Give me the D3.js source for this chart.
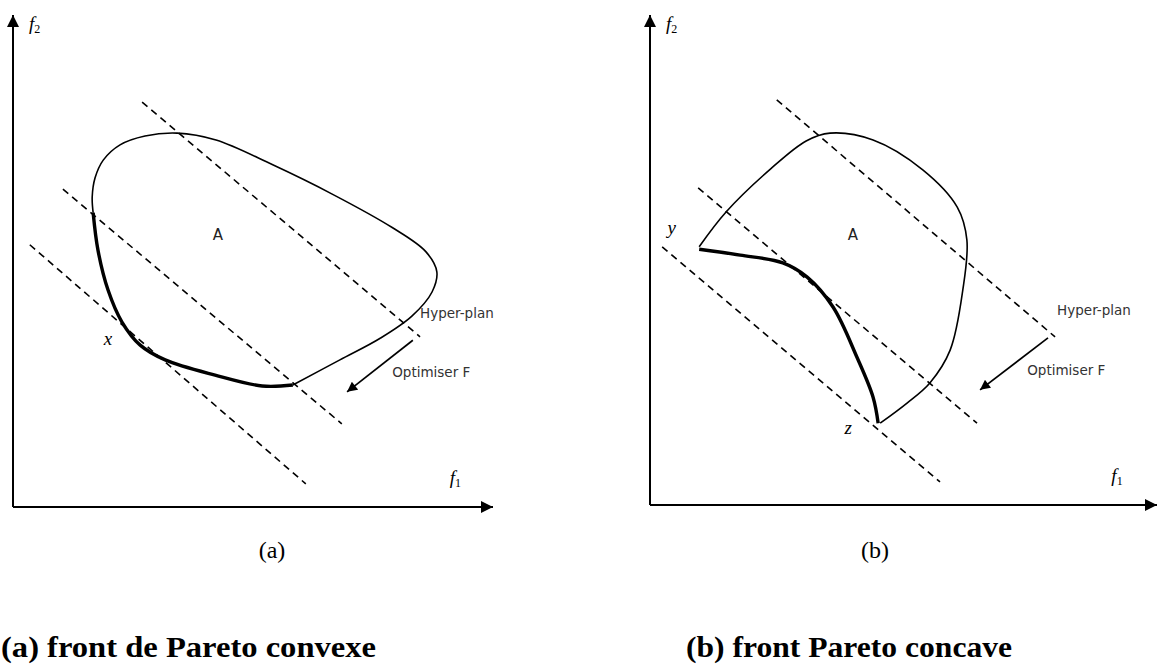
<!DOCTYPE html>
<html><head><meta charset="utf-8">
<script src="https://cdn.jsdelivr.net/npm/d3@7"></script>
<style>body{margin:0;background:#fff}svg{display:block}</style>
</head><body>
<svg id="c" width="1160" height="668"></svg>
<script>
// ---------- data (f1, f2 units 0..100) ----------
// Panel (a): convex front
const outlineA = [[58.3,24.8],[68.1,29.9],[76.5,34.3],[83.1,38.8],[87.3,43.7],[88.3,47.8],[86.0,51.9],[79.0,56.8],[66.5,63.6],[54.0,69.6],[42.3,74.6],[34.2,76.0],[27.5,75.4],[22.3,73.6],[18.8,70.5],[17.1,66.9],[16.5,63.0],[16.7,59.8]];
const frontA = [[16.7,59.8],[17.7,52.2],[19.8,44.1],[22.7,37.6],[26.5,32.9],[31.7,29.9],[42.1,26.8],[51.9,24.6],[58.3,24.8]];
const hyperA = [[[26.9,82.3],[84.8,34.6]],[[10.4,64.6],[68.5,16.9]],[[3.5,53.3],[61.0,4.7]]];
const arrowA = [[83.3,33.9],[69.6,23.4]];
// Panel (b): concave front
const outlineB = [[9.7,52.7],[15.0,59.8],[23.8,68.6],[30.8,74.3],[35.5,75.9],[44.0,74.5],[53.8,68.4],[60.6,60.8],[62.5,54.1],[61.7,43.9],[59.2,31.6],[55.2,24.9],[50.7,20.8],[45.4,16.7]];
const frontB = [[9.7,52.2],[17.8,51.0],[26.2,49.4],[31.0,46.5],[36.1,40.4],[40.8,30.2],[44.0,22.0],[45.0,16.7]];
const hyperB = [[[25.0,82.7],[79.9,34.3]],[[9.5,64.7],[64.5,16.7]],[[2.4,52.7],[57.2,4.7]]];
const arrowB = [[78.5,34.1],[65.1,23.5]];
// labels
const labelsA = [{t:"A",p:[42.7,54.3],cls:"sans14"},{t:"Hyper-plan",p:[84.8,38.4],cls:"sans13"},{t:"Optimiser F",p:[79.0,26.4],cls:"sans13"},{t:"x",p:[19.8,32.9],cls:"ital"}];
const labelsB = [{t:"A",p:[40.0,54.1],cls:"sans14"},{t:"Hyper-plan",p:[80.3,38.8],cls:"sans13"},{t:"Optimiser F",p:[74.4,26.5],cls:"sans13"},{t:"y",p:[4.3,55.3],cls:"ital"},{t:"z",p:[39.1,14.4],cls:"ital"}];
const subLabels = ["(a)","(b)"];
const captions = ["(a)  front de Pareto convexe","(b) front Pareto concave"];

// ---------- drawing ----------
const svg = d3.select("#c");
const defs = svg.append("defs");
defs.append("marker").attr("id","ah").attr("viewBox","0 0 10 10").attr("refX",10).attr("refY",5)
  .attr("markerWidth",11).attr("markerHeight",10).attr("markerUnits","userSpaceOnUse").attr("orient","auto")
  .append("path").attr("d","M0,0L10,5L0,10z").attr("fill","#000");
defs.append("marker").attr("id","ax").attr("viewBox","0 0 10 10").attr("refX",10).attr("refY",5)
  .attr("markerWidth",13).attr("markerHeight",12).attr("markerUnits","userSpaceOnUse").attr("orient","auto")
  .append("path").attr("d","M0,0L10,5L0,10z").attr("fill","#000");

const panels = [
  {x0:13, x1:493, y0:507, y1:15, outline:outlineA, front:frontA, hyper:hyperA, arrow:arrowA, labels:labelsA, sub:subLabels[0], subX:272, cap:captions[0], capX:1, capW:375},
  {x0:650, x1:1157, y0:505, y1:15, outline:outlineB, front:frontB, hyper:hyperB, arrow:arrowB, labels:labelsB, sub:subLabels[1], subX:875, cap:captions[1], capX:686, capW:326}
];

panels.forEach(P => {
  const x = d3.scaleLinear().domain([0,100]).range([P.x0, P.x1]);
  const y = d3.scaleLinear().domain([0,100]).range([P.y0, P.y1]);
  const g = svg.append("g");
  const line = d3.line().x(d=>x(d[0])).y(d=>y(d[1])).curve(d3.curveCatmullRom.alpha(0.5));
  // axes
  g.append("line").attr("x1",x(0)).attr("y1",y(0)).attr("x2",x(0)).attr("y2",y(100))
    .attr("stroke","#000").attr("stroke-width",2).attr("marker-end","url(#ax)");
  g.append("line").attr("x1",x(0)).attr("y1",y(0)).attr("x2",x(100)).attr("y2",y(0))
    .attr("stroke","#000").attr("stroke-width",2).attr("marker-end","url(#ax)");
  // axis labels
  const f2 = g.append("text").attr("x",x(0)+16).attr("y",y(100)+15).attr("font-family","Liberation Serif").attr("font-size",19);
  f2.append("tspan").attr("font-style","italic").text("f");
  f2.append("tspan").attr("font-size",12).attr("dy",3).text("2");
  const f1 = g.append("text").attr("x",x(91)).attr("y",y(4.6)).attr("font-family","Liberation Serif").attr("font-size",19);
  f1.append("tspan").attr("font-style","italic").text("f");
  f1.append("tspan").attr("font-size",12).attr("dy",3).text("1");
  // hyperplanes
  g.selectAll(".hp").data(P.hyper).join("line")
    .attr("x1",d=>x(d[0][0])).attr("y1",d=>y(d[0][1])).attr("x2",d=>x(d[1][0])).attr("y2",d=>y(d[1][1]))
    .attr("stroke","#000").attr("stroke-width",1.6).attr("stroke-dasharray","7,5");
  // outline
  g.append("path").attr("d",line(P.outline)).attr("fill","none").attr("stroke","#000").attr("stroke-width",1.6);
  // front
  g.append("path").attr("d",line(P.front)).attr("fill","none").attr("stroke","#000").attr("stroke-width",3.4);
  // arrow
  g.append("line").attr("x1",x(P.arrow[0][0])).attr("y1",y(P.arrow[0][1])).attr("x2",x(P.arrow[1][0])).attr("y2",y(P.arrow[1][1]))
    .attr("stroke","#000").attr("stroke-width",1.7).attr("marker-end","url(#ah)");
  // labels
  P.labels.forEach(L => {
    const t = g.append("text").attr("x",x(L.p[0])).attr("y",y(L.p[1])).text(L.t);
    if (L.cls==="sans14") t.attr("font-family","DejaVu Sans").attr("font-size",15).attr("text-anchor","middle").attr("fill","#222");
    else if (L.cls==="sans13") t.attr("font-family","DejaVu Sans").attr("font-size",13.5).attr("fill","#333");
    else t.attr("font-family","Liberation Serif").attr("font-style","italic").attr("font-size",19).attr("text-anchor","middle");
  });
  // sub label
  g.append("text").attr("x",P.subX).attr("y",558).attr("text-anchor","middle")
    .attr("font-family","Liberation Serif").attr("font-size",24).text(P.sub);
  // caption
  g.append("text").attr("x",P.capX).attr("y",657).attr("font-family","Liberation Serif").attr("font-weight","bold")
    .attr("font-size",30).attr("textLength",P.capW).attr("lengthAdjust","spacingAndGlyphs").text(P.cap);
});
</script>
</body></html>
